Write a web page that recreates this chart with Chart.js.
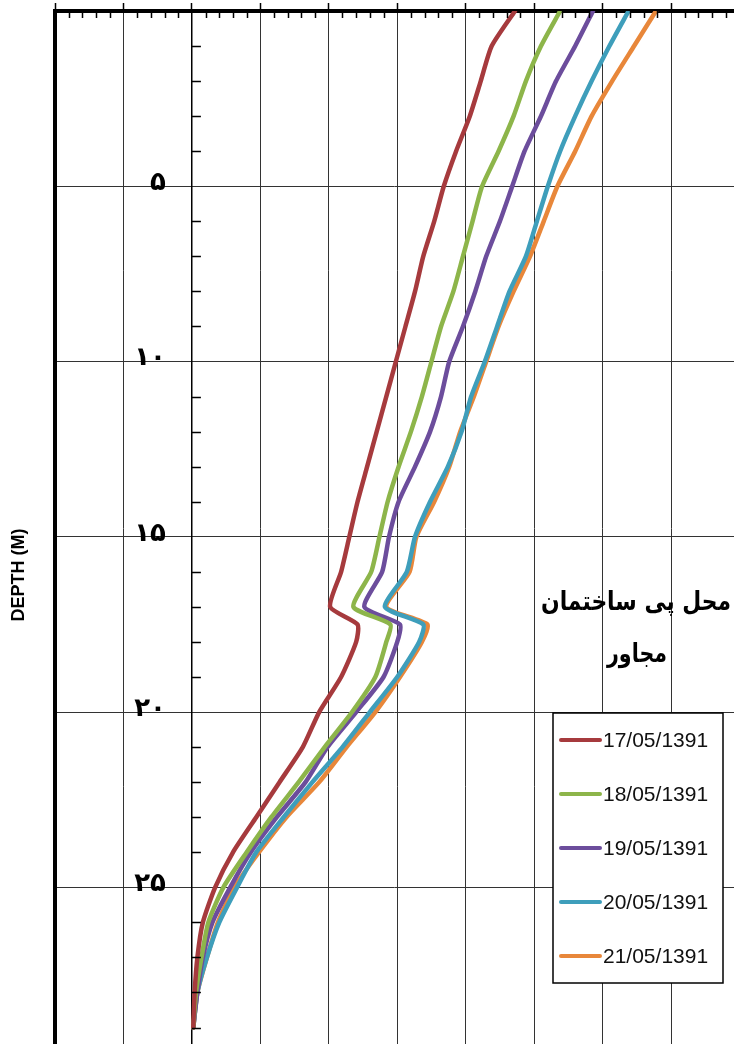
<!DOCTYPE html>
<html>
<head>
<meta charset="utf-8">
<script src="https://cdn.jsdelivr.net/npm/chart.js@4.4.0/dist/chart.umd.min.js"></script>
<style>
  html, body { margin: 0; padding: 0; background: #fff; }
  #wrap { width: 734px; height: 1044px; }
</style>
</head>
<body>
<div id="wrap"><canvas id="chart" width="734" height="1044"></canvas></div>
<script>
"use strict";

// depth (m) of each reading, top to bottom
const depths = [0, 1, 2, 3, 4, 5, 6, 7, 8, 9, 10, 11, 12, 13, 14, 15, 16,
  17, 17.5, 18, 19, 20, 21, 22, 23, 24, 25, 26, 27, 28, 29];

const dates = ["17/05/1391", "18/05/1391", "19/05/1391", "20/05/1391", "21/05/1391"];
const colors = ["#a63a3d", "#8db54a", "#6c4d9c", "#3e9ebb", "#e8873a"];

// horizontal reading at each depth, one array per survey date
const d17 = [23.6, 21.9, 21.1, 20.3, 19.3, 18.4, 17.7, 16.9, 16.3, 15.6, 14.9, 14.2, 13.5, 12.8, 12.1, 11.5, 10.9,
  10.1, 12.1, 12.0, 10.9, 9.3, 8.1, 6.4, 4.7, 3.0, 1.7, 0.8, 0.4, 0.2, 0.1];
const d18 = [26.9, 25.5, 24.4, 23.5, 22.4, 21.2, 20.5, 19.8, 19.1, 18.2, 17.5, 16.8, 16.0, 15.1, 14.3, 13.7, 13.1,
  11.8, 14.5, 14.2, 13.4, 11.7, 9.7, 7.8, 5.8, 4.0, 2.3, 1.2, 0.7, 0.3, 0.1];
const d19 = [29.3, 28.0, 26.6, 25.5, 24.3, 23.4, 22.5, 21.5, 20.7, 19.8, 18.8, 18.2, 17.4, 16.3, 15.1, 14.4, 13.9,
  12.6, 15.2, 15.0, 14.0, 12.0, 9.9, 8.3, 6.2, 4.3, 2.8, 1.5, 0.8, 0.4, 0.1];
const d20 = [31.9, 30.5, 29.2, 28.0, 26.9, 26.0, 25.2, 24.4, 23.2, 22.3, 21.4, 20.4, 19.7, 18.7, 17.4, 16.3, 15.7,
  14.1, 16.9, 16.6, 15.0, 13.0, 11.0, 8.8, 6.7, 4.7, 3.3, 2.0, 1.1, 0.4, 0.1];
const d21 = [33.9, 32.3, 30.7, 29.2, 28.0, 26.7, 25.7, 24.7, 23.5, 22.4, 21.5, 20.6, 19.6, 18.8, 17.7, 16.4, 15.9,
  14.2, 17.2, 16.8, 15.2, 13.4, 11.3, 9.3, 6.9, 4.9, 3.1, 1.9, 1.1, 0.4, 0.1];

const depthTickLabels = ["", "۵", "۱۰", "۱۵", "۲۰", "۲۵"];
const yTitle = "DEPTH (M)";
const noteLines = ["محل پی ساختمان", "مجاور"];

const series = [d17, d18, d19, d20, d21];

const datasets = series.map((vals, i) => ({
  label: dates[i],
  data: vals.map((v, k) => ({ x: v, y: depths[k] })),
  borderColor: colors[i],
  backgroundColor: colors[i],
  borderWidth: 4.5,
  pointRadius: 0,
  showLine: true,
  tension: 0.2,
  borderJoinStyle: "round",
  borderCapStyle: "round",
}));

// scales here sit inside the plot, so they must not push the plot area in
const noPad = (scale) => {
  scale.paddingTop = 0;
  scale.paddingBottom = 0;
  scale.paddingLeft = 0;
  scale.paddingRight = 0;
};

// minor ticks, y-title, note text and the boxed legend
const decor = {
  id: "decor",
  afterDraw(chart) {
    const { ctx, chartArea: a, scales: { x, y } } = chart;
    ctx.save();
    ctx.strokeStyle = "#000";
    ctx.lineWidth = 1.5;
    ctx.beginPath();
    for (let v = Math.ceil(x.min); v <= x.max; v++) {
      if (v % 5 === 0) continue;
      const px = Math.round(x.getPixelForValue(v)) + 0.5;
      ctx.moveTo(px, a.top);
      ctx.lineTo(px, a.top + 7);
    }
    const x0 = x.getPixelForValue(0);
    for (let d = 1; d <= y.max; d++) {
      if (d % 5 === 0) continue;
      const py = Math.round(y.getPixelForValue(d)) + 0.5;
      ctx.moveTo(x0, py);
      ctx.lineTo(x0 + 9, py);
    }
    ctx.stroke();

    // rotated axis title
    ctx.fillStyle = "#000";
    ctx.font = "bold 18px 'Liberation Sans', Arial, sans-serif";
    ctx.textAlign = "center";
    ctx.textBaseline = "middle";
    ctx.translate(19, 575);
    ctx.rotate(-Math.PI / 2);
    ctx.fillText(yTitle, 0, 0);
    ctx.setTransform(1, 0, 0, 1, 0, 0);

    // persian note
    ctx.font = "bold 26px 'DejaVu Sans', sans-serif";
    ctx.fillText(noteLines[0], 636, 603, 190);
    ctx.fillText(noteLines[1], 637, 655, 60);

    // legend box
    const bx = 553, by = 713, bw = 170, bh = 270;
    ctx.fillStyle = "#fff";
    ctx.fillRect(bx, by, bw, bh);
    ctx.lineWidth = 1.5;
    ctx.strokeRect(bx, by, bw, bh);
    ctx.font = "21px 'Liberation Sans', Arial, sans-serif";
    ctx.textAlign = "left";
    chart.data.datasets.forEach((ds, i) => {
      const ly = 740 + i * 54;
      ctx.strokeStyle = ds.borderColor;
      ctx.lineWidth = 4;
      ctx.lineCap = "round";
      ctx.beginPath();
      ctx.moveTo(561, ly);
      ctx.lineTo(600, ly);
      ctx.stroke();
      ctx.fillStyle = "#111";
      ctx.fillText(ds.label, 603, ly + 1);
    });
    ctx.restore();
  },
};

new Chart(document.getElementById("chart"), {
  type: "scatter",
  data: { datasets },
  options: {
    responsive: false,
    devicePixelRatio: 1,
    animation: false,
    layout: { padding: { left: 55, top: 3, right: 0, bottom: 0 } },
    plugins: { legend: { display: false }, tooltip: { enabled: false } },
    scales: {
      x: {
        type: "linear",
        position: "top",
        min: -10,
        max: 39.6,
        ticks: { stepSize: 5, display: false, includeBounds: false },
        grid: { color: "#333", lineWidth: 1, tickLength: 8, tickColor: "#000", tickWidth: 1.5 },
        border: { color: "#000", width: 4 },
        afterFit: noPad,
      },
      y: {
        type: "linear",
        position: { x: 0 },
        reverse: true,
        min: 0,
        max: 29.47,
        ticks: {
          stepSize: 5,
          includeBounds: false,
          labelOffset: -3,
          color: "#000",
          font: { family: "'DejaVu Sans', sans-serif", size: 26, weight: "bold" },
          // an axis placed at x=0 ignores tick padding; the em space keeps labels off the line
          callback: (v) => (depthTickLabels[Math.round(v / 5)] ?? "") + "\u2003",
        },
        grid: { color: "#333", lineWidth: 1, drawTicks: false },
        border: { color: "#000", width: 1.5 },
        afterFit: noPad,
      },
      yEdge: {
        type: "linear",
        position: "left",
        reverse: true,
        min: 0,
        max: 29.47,
        ticks: { display: false },
        grid: { display: false, drawTicks: false },
        border: { color: "#000", width: 4 },
        afterFit: noPad,
      },
    },
  },
  plugins: [decor],
});
</script>
</body>
</html>
